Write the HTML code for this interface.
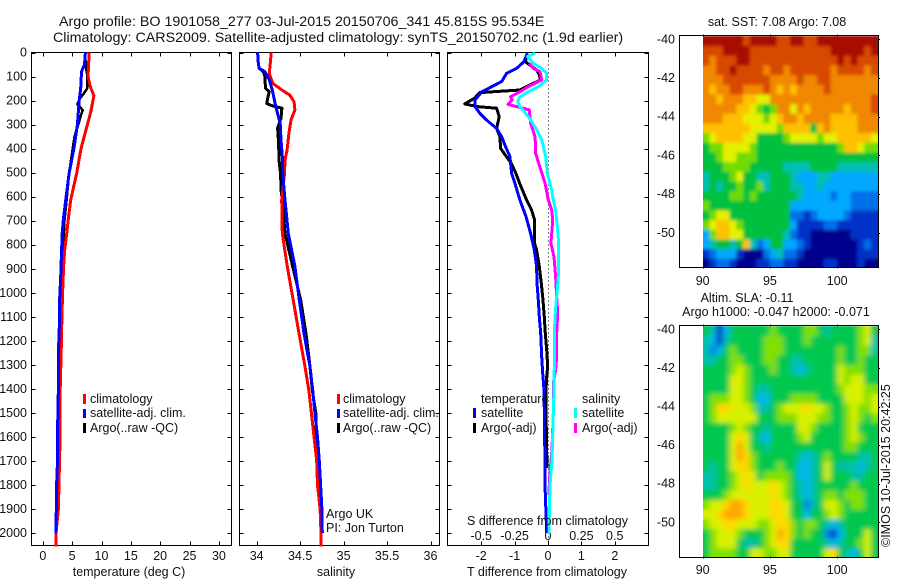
<!DOCTYPE html>
<html lang="en">
<head>
<meta charset="utf-8">
<title>Argo profile</title>
<style>
html,body{margin:0;padding:0;background:#fff;width:900px;height:580px;overflow:hidden}
svg{display:block;font-family:"Liberation Sans",sans-serif;font-size:12.5px;fill:#111}
.prof{fill:none;shape-rendering:crispEdges;stroke-linejoin:round}
.ax{stroke:#000;stroke-width:1;shape-rendering:crispEdges;fill:none}
.ttl{font-size:14.28px}
</style>
</head>
<body>
<svg id="fig" width="900" height="580" viewBox="0 0 900 580" xmlns="http://www.w3.org/2000/svg">
<defs>
<clipPath id="clipSst"><rect x="703" y="36" width="175" height="231"/></clipPath>
<clipPath id="clipSla"><rect x="703" y="326" width="175" height="231"/></clipPath>
<filter id="blur" x="-5%" y="-5%" width="110%" height="110%"><feGaussianBlur stdDeviation="3 2.5"/></filter>
<filter id="blurSoft" x="-5%" y="-5%" width="110%" height="110%"><feGaussianBlur stdDeviation="1.6 1.6"/></filter>
</defs>
<text class="ttl" x="59" y="26">Argo profile: BO 1901058_277 03-Jul-2015 20150706_341 45.815S 95.534E</text>
<text class="ttl" x="53" y="42">Climatology: CARS2009. Satellite-adjusted climatology: synTS_20150702.nc (1.9d earlier)</text>

<g id="heat"></g>
<g id="axes"></g>
<g id="lines"></g>

<text x="129" y="576" text-anchor="middle">temperature (deg C)</text>
<text x="336" y="576" text-anchor="middle">salinity</text>
<text x="547" y="576" text-anchor="middle">T difference from climatology</text>
<text x="547.5" y="525" text-anchor="middle">S difference from climatology</text>

<g>
<rect x="83" y="394" width="3" height="10" fill="#f00"/>
<text x="90" y="403">climatology</text>
<rect x="83" y="409" width="3" height="9" fill="#00f"/>
<text x="90" y="417">satellite-adj. clim.</text>
<rect x="83" y="423" width="3" height="10" fill="#000"/>
<text x="90" y="432">Argo(..raw -QC)</text>
</g>
<g>
<rect x="337" y="394" width="3" height="10" fill="#f00"/>
<text x="343" y="403">climatology</text>
<rect x="337" y="409" width="3" height="9" fill="#00f"/>
<text x="343" y="417">satellite-adj. clim.</text>
<rect x="337" y="423" width="3" height="10" fill="#000"/>
<text x="343" y="432">Argo(..raw -QC)</text>
</g>
<text x="326" y="518">Argo UK</text>
<text x="326" y="532">PI: Jon Turton</text>
<g>
<text x="481" y="403">temperature</text>
<rect x="473" y="408" width="3" height="10" fill="#00f"/>
<text x="481" y="417">satellite</text>
<rect x="473" y="423" width="3" height="10" fill="#000"/>
<text x="481" y="432">Argo(-adj)</text>
<text x="582" y="403">salinity</text>
<rect x="574" y="408" width="3" height="10" fill="#0ff"/>
<text x="582" y="417">satellite</text>
<rect x="574" y="423" width="3" height="10" fill="#f0f"/>
<text x="582" y="432">Argo(-adj)</text>
</g>

<text x="777" y="26" text-anchor="middle">sat. SST: 7.08 Argo: 7.08</text>
<text x="747" y="302" text-anchor="middle">Altim. SLA: -0.11</text>
<text x="776" y="316" text-anchor="middle">Argo h1000: -0.047 h2000: -0.071</text>
<text transform="translate(890,547) rotate(-90)">©IMOS 10-Jul-2015 20:42:25</text>
</svg>
<script>
// ----- profile axis ticks -----
const depthTicks = [0,100,200,300,400,500,600,700,800,900,1000,1100,1200,1300,1400,1500,1600,1700,1800,1900,2000];
const tempTicks = [0,5,10,15,20,25,30];
const salTicks = [34,34.5,35,35.5,36];
const salTickLabels = ['34','34.5','35','35.5','36'];
const tDiffTicks = [-2,-1,0,1,2];
const sDiffTicks = [-0.5,-0.25,0,0.25,0.5];
const sDiffTickLabels = ['-0.5','-0.25','0','0.25','0.5'];
const lonTicks = [90,95,100];
const latTicks = [-40,-42,-44,-46,-48,-50];

// ----- temperature panel (deg C) -----
const tempClimDepth = [0,100,140,180,250,300,400,500,614,683,753,822,891,975,1085,1224,1430,1650,1900,2000,2055];
const tempClim = [7.9,7.7,8.05,8.7,8.15,7.6,6.5,5.8,4.75,4.4,4.07,3.73,3.55,3.4,3.27,3.15,2.93,2.9,2.65,2.25,2.25];
const tempSatDepth = [0,50,80,150,200,300,400,500,614,697,753,822,933,1030,1169,1238,1400,1500,1700,1800,2000];
const tempSat = [7.25,7.1,6.6,6.45,6.2,5.9,5.3,4.5,3.9,3.5,3.3,3.2,3.05,2.87,2.8,2.65,2.65,2.55,2.5,2.35,2.25];
const tempArgoDepth = [0,60,100,150,170,190,215,225,240,260,300,350,400,500,614,697,891,1030,1238,1350,1500,1700,1800,1900];
const tempArgo = [7.2,7.35,7.6,7.55,7,6.35,5.9,6.3,6.8,6.5,6.05,5.4,5.1,4.5,4.05,3.7,3.33,3.15,2.98,2.93,2.7,2.7,2.65,2.6];

// ----- salinity panel -----
const salClimDepth = [0,87,128,156,177,205,239,281,336,406,447,503,614,753,891,1030,1169,1307,1405,1500,1700,1800,1900,2000,2055];
const salClim = [34.168,34.145,34.184,34.29,34.38,34.43,34.44,34.395,34.37,34.35,34.326,34.32,34.288,34.295,34.352,34.42,34.487,34.556,34.6,34.63,34.69,34.7,34.73,34.74,34.74];
const salSatDepth = [0,50,66,80,114,156,225,295,364,433,503,572,614,753,891,1030,1169,1307,1405,1500,1600,1700,1800,1900,2000];
const salSat = [34.01,34.02,34.03,34.095,34.145,34.18,34.22,34.27,34.28,34.295,34.3,34.315,34.326,34.364,34.44,34.49,34.544,34.613,34.644,34.67,34.7,34.72,34.735,34.75,34.755];
const salArgoDepth = [66,80,100,149,163,184,212,221,232,274,316,364,461,503,572,614,753,891,1030,1169,1307,1405,1500,1600,1700,1800,1900];
const salArgo = [34.03,34.076,34.095,34.1,34.145,34.13,34.115,34.17,34.29,34.28,34.24,34.25,34.26,34.275,34.28,34.295,34.326,34.414,34.506,34.567,34.613,34.64,34.68,34.68,34.7,34.73,34.73];

// ----- difference panel -----
const dTSatDepth = [3,38,66,87,121,163,198,225,253,281,316,350,392,433,503,544,614,683,753,822,891,961,1030,1100,1169,1266,1335,1405,1600,1800,2000];
const dTSat = [-0.62,-0.72,-0.94,-1.24,-1.39,-1.98,-2.19,-2.19,-2.04,-1.84,-1.54,-1.39,-1.27,-1.14,-1.09,-0.99,-0.84,-0.66,-0.52,-0.41,-0.34,-0.33,-0.29,-0.26,-0.22,-0.19,-0.16,-0.12,-0.1,-0.09,-0.04];
const dTArgoDepth = [3,38,73,94,115,156,167,190,214,225,232,267,316,350,399,433,461,503,544,614,656,697,794,822,891,961,1030,1100,1169,1238,1307,1349,1405,1500,1730];
const dTArgo = [-0.62,-0.68,-0.34,-0.25,-0.24,-0.84,-2.04,-2.2,-2.49,-2.13,-1.54,-1.46,-1.54,-1.44,-1.42,-1.25,-1.1,-0.96,-0.85,-0.64,-0.49,-0.4,-0.4,-0.34,-0.26,-0.2,-0.15,-0.11,-0.08,-0.04,-0.01,-0.04,-0.06,-0.06,-0.03];
const dSSatDepth = [3,17,45,66,87,114,142,163,184,205,225,267,316,364,433,503,572,614,656,725,794,933,988,1030,1085,1169,1307,1405,1500,1700,1800,2000];
const dSSat = [-0.097,-0.155,-0.11,-0.047,-0.01,-0.01,-0.07,-0.147,-0.21,-0.227,-0.21,-0.147,-0.09,-0.047,-0.017,-0.005,0.028,0.04,0.057,0.07,0.08,0.077,0.07,0.062,0.055,0.047,0.047,0.045,0.04,0.03,0.015,0.007];
const dSArgoDepth = [45,66,80,114,142,163,184,198,216,230,239,295,350,420,475,544,614,656,697,753,794,850,933,1016,1085,1169,1266,1321,1377,1500,1650,1750,1840];
const dSArgo = [-0.14,-0.11,-0.06,-0.047,-0.147,-0.21,-0.28,-0.27,-0.3,-0.197,-0.14,-0.13,-0.097,-0.092,-0.062,-0.022,0.002,0.028,0.035,0.028,0.022,0.045,0.057,0.065,0.073,0.065,0.065,0.057,0.04,0.04,0.03,0.015,0.005];

// ----- map colour palette, index = colour level -----
const levelColors = ['#00008c','#0030c8','#0070e8','#00a8ff','#00bfb0','#00c040','#70dc00','#e4f000','#ffc000','#f08800','#d84800','#a81000'];
const slaColors = ['#00008c','#0040d0','#0080e8','#00b8e8','#00c0a8','#00c850','#80e000','#d8f000','#ffd800','#ffa800'];

// ----- SST map: colour level per 0.5 deg cell, north to south -----
const sstRow00 = [11,11,11,11,11,11,10,11,11,11,11,10,10,11,11,10,10,11,11,11,11,11,11,11,11,11];
const sstRow01 = [10,10,10,11,11,11,11,10,10,10,10,10,10,10,10,10,10,10,10,11,11,11,11,11,10,11];
const sstRow02 = [10,9,10,10,10,11,11,10,10,10,10,10,10,10,10,10,10,10,10,10,11,10,11,10,10,10];
const sstRow03 = [9,9,10,10,11,10,10,10,10,9,10,10,9,10,10,10,10,10,10,9,10,10,10,10,9,10];
const sstRow04 = [9,9,9,10,10,10,10,10,10,10,9,9,9,9,10,9,9,10,10,9,9,9,9,9,9,9];
const sstRow05 = [9,8,9,9,10,10,9,9,9,10,9,8,9,8,9,9,9,9,10,9,9,9,9,9,9,9];
const sstRow06 = [9,9,8,9,9,9,8,8,7,7,9,9,9,9,9,9,9,9,9,9,9,9,9,9,9,10];
const sstRow07 = [9,9,9,9,9,8,8,7,6,5,6,9,9,7,9,8,9,9,9,9,9,8,9,9,9,10];
const sstRow08 = [9,9,9,8,8,8,7,7,7,6,7,8,9,9,8,9,9,9,9,8,8,8,8,9,9,9];
const sstRow09 = [8,8,8,8,8,8,8,7,7,7,7,6,8,8,8,8,5,8,9,8,8,8,8,9,9,9];
const sstRow10 = [6,7,8,8,8,8,7,7,5,5,5,5,6,7,7,7,7,6,7,7,8,8,8,8,8,7];
const sstRow11 = [5,6,6,7,7,7,7,6,5,5,5,5,5,5,5,5,5,5,5,5,6,8,8,7,6,6];
const sstRow12 = [5,5,6,7,7,6,6,6,5,5,5,5,5,5,5,5,5,5,5,5,5,5,5,5,5,5];
const sstRow13 = [5,5,5,6,6,6,6,5,5,5,5,5,4,4,4,4,5,5,5,5,4,4,4,4,4,4];
const sstRow14 = [4,5,5,5,6,7,5,5,4,4,5,5,5,4,3,3,3,4,4,3,3,3,3,3,3,3];
const sstRow15 = [4,5,4,5,5,6,5,5,6,4,5,5,5,4,4,3,3,4,3,3,3,3,3,3,3,3];
const sstRow16 = [5,5,5,5,6,6,5,6,5,5,5,5,5,5,4,3,3,3,3,2,3,3,2,2,2,2];
const sstRow17 = [6,5,5,5,5,5,5,5,5,5,5,5,5,3,3,3,3,3,3,3,3,3,2,2,2,2];
const sstRow18 = [5,6,7,7,5,5,5,5,5,5,5,5,5,2,2,1,2,3,3,3,3,2,1,1,1,1];
const sstRow19 = [6,7,8,8,7,6,5,5,5,5,5,5,5,3,1,1,1,1,2,2,1,1,1,1,1,1];
const sstRow20 = [3,6,8,8,7,7,5,5,5,5,5,5,4,2,1,1,0,0,0,0,0,0,1,1,1,1];
const sstRow21 = [3,4,5,5,4,5,8,4,2,3,5,5,3,3,2,1,0,0,0,0,0,0,0,1,2,1];
const sstRow22 = [1,2,3,3,3,1,0,0,0,2,3,4,2,2,1,0,0,0,0,0,0,0,0,1,1,1];
const sstRow23 = [0,1,2,2,1,0,0,0,1,1,2,2,1,1,0,0,0,0,1,1,0,0,0,1,0,0];
const sstRows = [sstRow00,sstRow01,sstRow02,sstRow03,sstRow04,sstRow05,sstRow06,sstRow07,sstRow08,sstRow09,sstRow10,sstRow11,sstRow12,sstRow13,sstRow14,sstRow15,sstRow16,sstRow17,sstRow18,sstRow19,sstRow20,sstRow21,sstRow22,sstRow23];

// ----- SLA map: colour level per 0.5 deg cell, north to south -----
const slaRow00 = [5,4,1,3,5,5,5,5,5,5,6,5,5,5,5,6,6,5,4,5,5,5,5,6,7,5];
const slaRow01 = [4,3,1,4,5,5,5,5,5,6,6,6,5,5,5,6,5,5,5,5,5,5,5,6,7,4];
const slaRow02 = [4,2,3,5,6,5,5,5,5,6,6,6,5,5,5,5,5,5,5,5,6,5,5,6,6,4];
const slaRow03 = [4,4,5,5,6,6,5,5,5,6,6,5,5,4,4,5,5,5,5,5,6,5,5,6,5,5];
const slaRow04 = [5,5,5,5,6,7,6,5,5,5,6,5,5,4,3,4,5,5,5,5,7,6,6,6,5,5];
const slaRow05 = [5,5,5,5,7,7,6,5,5,5,5,5,5,5,5,5,5,5,5,5,7,6,7,7,5,5];
const slaRow06 = [5,5,5,5,7,7,6,5,4,4,5,5,5,5,5,5,5,5,5,5,6,7,7,7,6,6];
const slaRow07 = [5,6,6,6,7,7,6,5,3,3,5,5,5,6,6,6,6,5,5,5,5,7,7,7,6,7];
const slaRow08 = [5,6,8,8,7,7,7,6,4,4,5,6,7,7,7,8,7,7,6,5,5,6,7,6,6,7];
const slaRow09 = [5,6,7,7,7,7,7,7,5,5,5,6,6,6,7,7,7,6,6,5,5,6,7,6,5,6];
const slaRow10 = [5,5,5,5,6,7,6,5,5,4,5,5,5,5,7,7,6,5,5,5,5,6,7,5,5,5];
const slaRow11 = [5,5,5,5,7,8,7,5,4,3,5,5,5,5,6,7,5,5,5,5,5,6,7,6,5,5];
const slaRow12 = [5,5,5,5,7,9,7,5,5,4,5,5,5,5,5,5,5,5,5,5,5,6,6,5,5,5];
const slaRow13 = [5,5,5,5,7,9,8,6,5,5,5,5,5,5,4,3,4,5,6,5,5,5,5,4,4,5];
const slaRow14 = [5,4,5,5,7,8,8,6,5,5,5,6,5,5,3,3,4,5,7,5,4,4,4,3,4,5];
const slaRow15 = [4,4,5,5,6,7,8,7,5,6,6,6,6,5,3,3,4,5,7,5,5,5,4,4,5,5];
const slaRow16 = [4,4,5,5,6,7,8,7,7,7,8,7,6,5,4,3,4,5,5,5,5,5,6,5,5,5];
const slaRow17 = [5,5,5,6,7,7,7,7,7,7,8,7,6,5,4,3,4,5,6,6,5,6,6,6,5,5];
const slaRow18 = [6,7,7,8,9,9,8,7,7,7,8,8,7,5,5,2,4,5,7,7,6,5,6,6,5,5];
const slaRow19 = [7,7,8,9,9,9,8,7,7,7,8,8,7,5,5,3,5,5,6,7,6,5,5,5,5,5];
const slaRow20 = [6,7,7,8,8,7,7,7,6,6,7,8,8,6,5,6,6,5,4,3,4,5,5,5,5,5];
const slaRow21 = [5,6,7,7,7,6,5,5,5,6,7,9,8,6,5,6,5,5,2,1,3,5,5,5,7,5];
const slaRow22 = [5,6,7,7,7,5,4,4,5,6,7,8,8,5,5,5,5,5,4,3,4,5,5,6,7,5];
const slaRow23 = [5,6,6,6,6,5,5,7,7,6,6,7,7,5,5,5,5,5,7,8,5,4,3,5,7,5];
const slaRows = [slaRow00,slaRow01,slaRow02,slaRow03,slaRow04,slaRow05,slaRow06,slaRow07,slaRow08,slaRow09,slaRow10,slaRow11,slaRow12,slaRow13,slaRow14,slaRow15,slaRow16,slaRow17,slaRow18,slaRow19,slaRow20,slaRow21,slaRow22,slaRow23];

const NS = 'http://www.w3.org/2000/svg';
function mk(tag, attrs, parent, txt) {
  const el = document.createElementNS(NS, tag);
  for (const k in attrs) el.setAttribute(k, attrs[k]);
  if (txt !== undefined) el.textContent = txt;
  parent.appendChild(el);
  return el;
}
// axis functions
const depthY = d => 52.5 + d * 0.2403;
const tempX = t => 42.8 + t * 5.87;
const salX = s => 256.7 + (s - 34) * 86.9;
const dTX = t => 548 + t * 33.4;
const dSX = s => 548 + s * 133.5;
const lonX = lon => 702.7 + (lon - 90) * 13.45;
const sstLatY = lat => 39.3 + (-40 - lat) * 19.35;
const slaLatY = lat => 329.3 + (-40 - lat) * 19.3;

const axesG = document.getElementById('axes');
const linesG = document.getElementById('lines');
const heatG = document.getElementById('heat');
const T = 545.5, B0 = 52.5;

function box(x0, y0, x1, y1, name) {
  const r = mk('rect', {x:x0, y:y0, width:x1-x0, height:y1-y0, class:'ax'}, axesG);
  
  
}
function tick(x0, y0, x1, y1) {
  const l = mk('line', {x1:x0, y1:y0, x2:x1, y2:y1, class:'ax'}, axesG);
  
  
}
function label(x, y, s, anchor) {
  const t = mk('text', {x:x, y:y, 'text-anchor':anchor}, axesG, s);
  
  
}
function profilePanel(x0, x1, name) {
  box(x0, B0, x1, T, name);
  depthTicks.forEach(d => {
    const y = Math.round(depthY(d)) + 0.5;
    tick(x0, y, x0 + 4, y);
    tick(x1 - 4, y, x1, y);
  });
}
function xTicks(vals, fn, labels, labelY, ticked) {
  vals.forEach((v, i) => {
    const x = Math.round(fn(v)) + 0.5;
    if (ticked) { tick(x, B0, x, B0 + 4); tick(x, T - 4, x, T); }
    label(fn(v), labelY, labels[i], 'middle');
  });
}
profilePanel(31.5, 231.5, 'temperature-panel-frame');
profilePanel(239.5, 439.5, 'salinity-panel-frame');
profilePanel(447.5, 648.5, 'difference-panel-frame');
depthTicks.forEach(d => label(27, depthY(d) + 4, String(d), 'end'));
xTicks(tempTicks, tempX, tempTicks.map(String), 560, true);
xTicks(salTicks, salX, salTickLabels, 560, true);
xTicks(tDiffTicks, dTX, tDiffTicks.map(String), 560, true);
xTicks(sDiffTicks, dSX, sDiffTickLabels, 540, false);

const zeroLine = mk('line', {x1:548.5, y1:B0, x2:548.5, y2:T, stroke:'#000', 'stroke-width':1, 'stroke-dasharray':'1 3'}, linesG);



function series(depths, vals, xf, color, width, name) {
  const pts = depths.map((d, i) => xf(vals[i]).toFixed(1) + ',' + depthY(d).toFixed(1)).join(' ');
  const p = mk('polyline', {points:pts, stroke:color, 'stroke-width':width, class:'prof'}, linesG);
  
  
}
series(tempArgoDepth, tempArgo, tempX, '#000', 2.5, 'temperature-argo-line');
series(tempClimDepth, tempClim, tempX, '#f00', 3, 'temperature-climatology-line');
series(tempSatDepth, tempSat, tempX, '#00f', 3, 'temperature-satellite-line');
series(salArgoDepth, salArgo, salX, '#000', 3, 'salinity-argo-line');
series(salClimDepth, salClim, salX, '#f00', 3, 'salinity-climatology-line');
series(salSatDepth, salSat, salX, '#00f', 3, 'salinity-satellite-line');
series(dTArgoDepth, dTArgo, dTX, '#000', 3, 't-difference-argo-line');
series(dTSatDepth, dTSat, dTX, '#00f', 3, 't-difference-satellite-line');
series(dSArgoDepth, dSArgo, dSX, '#f0f', 3, 's-difference-argo-line');
series(dSSatDepth, dSSat, dSX, '#0ff', 3, 's-difference-satellite-line');

function cells(rows, colors, latY, g) {
  rows.forEach((row, r) => row.forEach((v, c) => {
    const lon = 90 + c * 0.5, lat = -39.85 - r * 0.5;
    const x0 = lonX(lon), y0 = latY(lat);
    const cell = mk('rect', {x:x0, y:y0, width:lonX(lon + 0.5) - x0 + 0.4, height:latY(lat - 0.5) - y0 + 0.4, fill:colors[v]}, g);
    
    
  }));
}
function heatmap(rows, colors, latY, clipId, name, filterId) {
  const outer = mk('g', {'clip-path':'url(#' + clipId + ')'}, heatG);
  
  
  // crisp underlay keeps the map edges solid where the blur fades out
  const under = mk('g', {'shape-rendering':'crispEdges'}, outer);
  
  
  cells(rows, colors, latY, under);
  const soft = mk('g', {filter:'url(#' + filterId + ')'}, outer);
  
  
  cells(rows, colors, latY, soft);
}
heatmap(sstRows, levelColors, sstLatY, 'clipSst', 'sst-map', 'blurSoft');
heatmap(slaRows, slaColors, slaLatY, 'clipSla', 'sla-map', 'blur');

function mapFrame(y0, y1, latY, name, lonLabelY) {
  box(679.5, y0, 878.5, y1, name);
  lonTicks.forEach(v => {
    const x = Math.round(lonX(v)) + 0.5;
    tick(x, y0 - 1, x, y0 + 1);
    tick(x, y1 - 1, x, y1 + 1);
    label(lonX(v), lonLabelY, String(v), 'middle');
  });
  latTicks.forEach(v => {
    const y = Math.round(latY(v)) + 0.5;
    tick(878, y, 880, y);
    label(675, latY(v) + 4, String(v), 'end');
  });
}
mapFrame(35.5, 267.5, sstLatY, 'sst-map-frame', 285);
mapFrame(325.5, 557.5, slaLatY, 'sla-map-frame', 574);
</script>
</body>
</html>
